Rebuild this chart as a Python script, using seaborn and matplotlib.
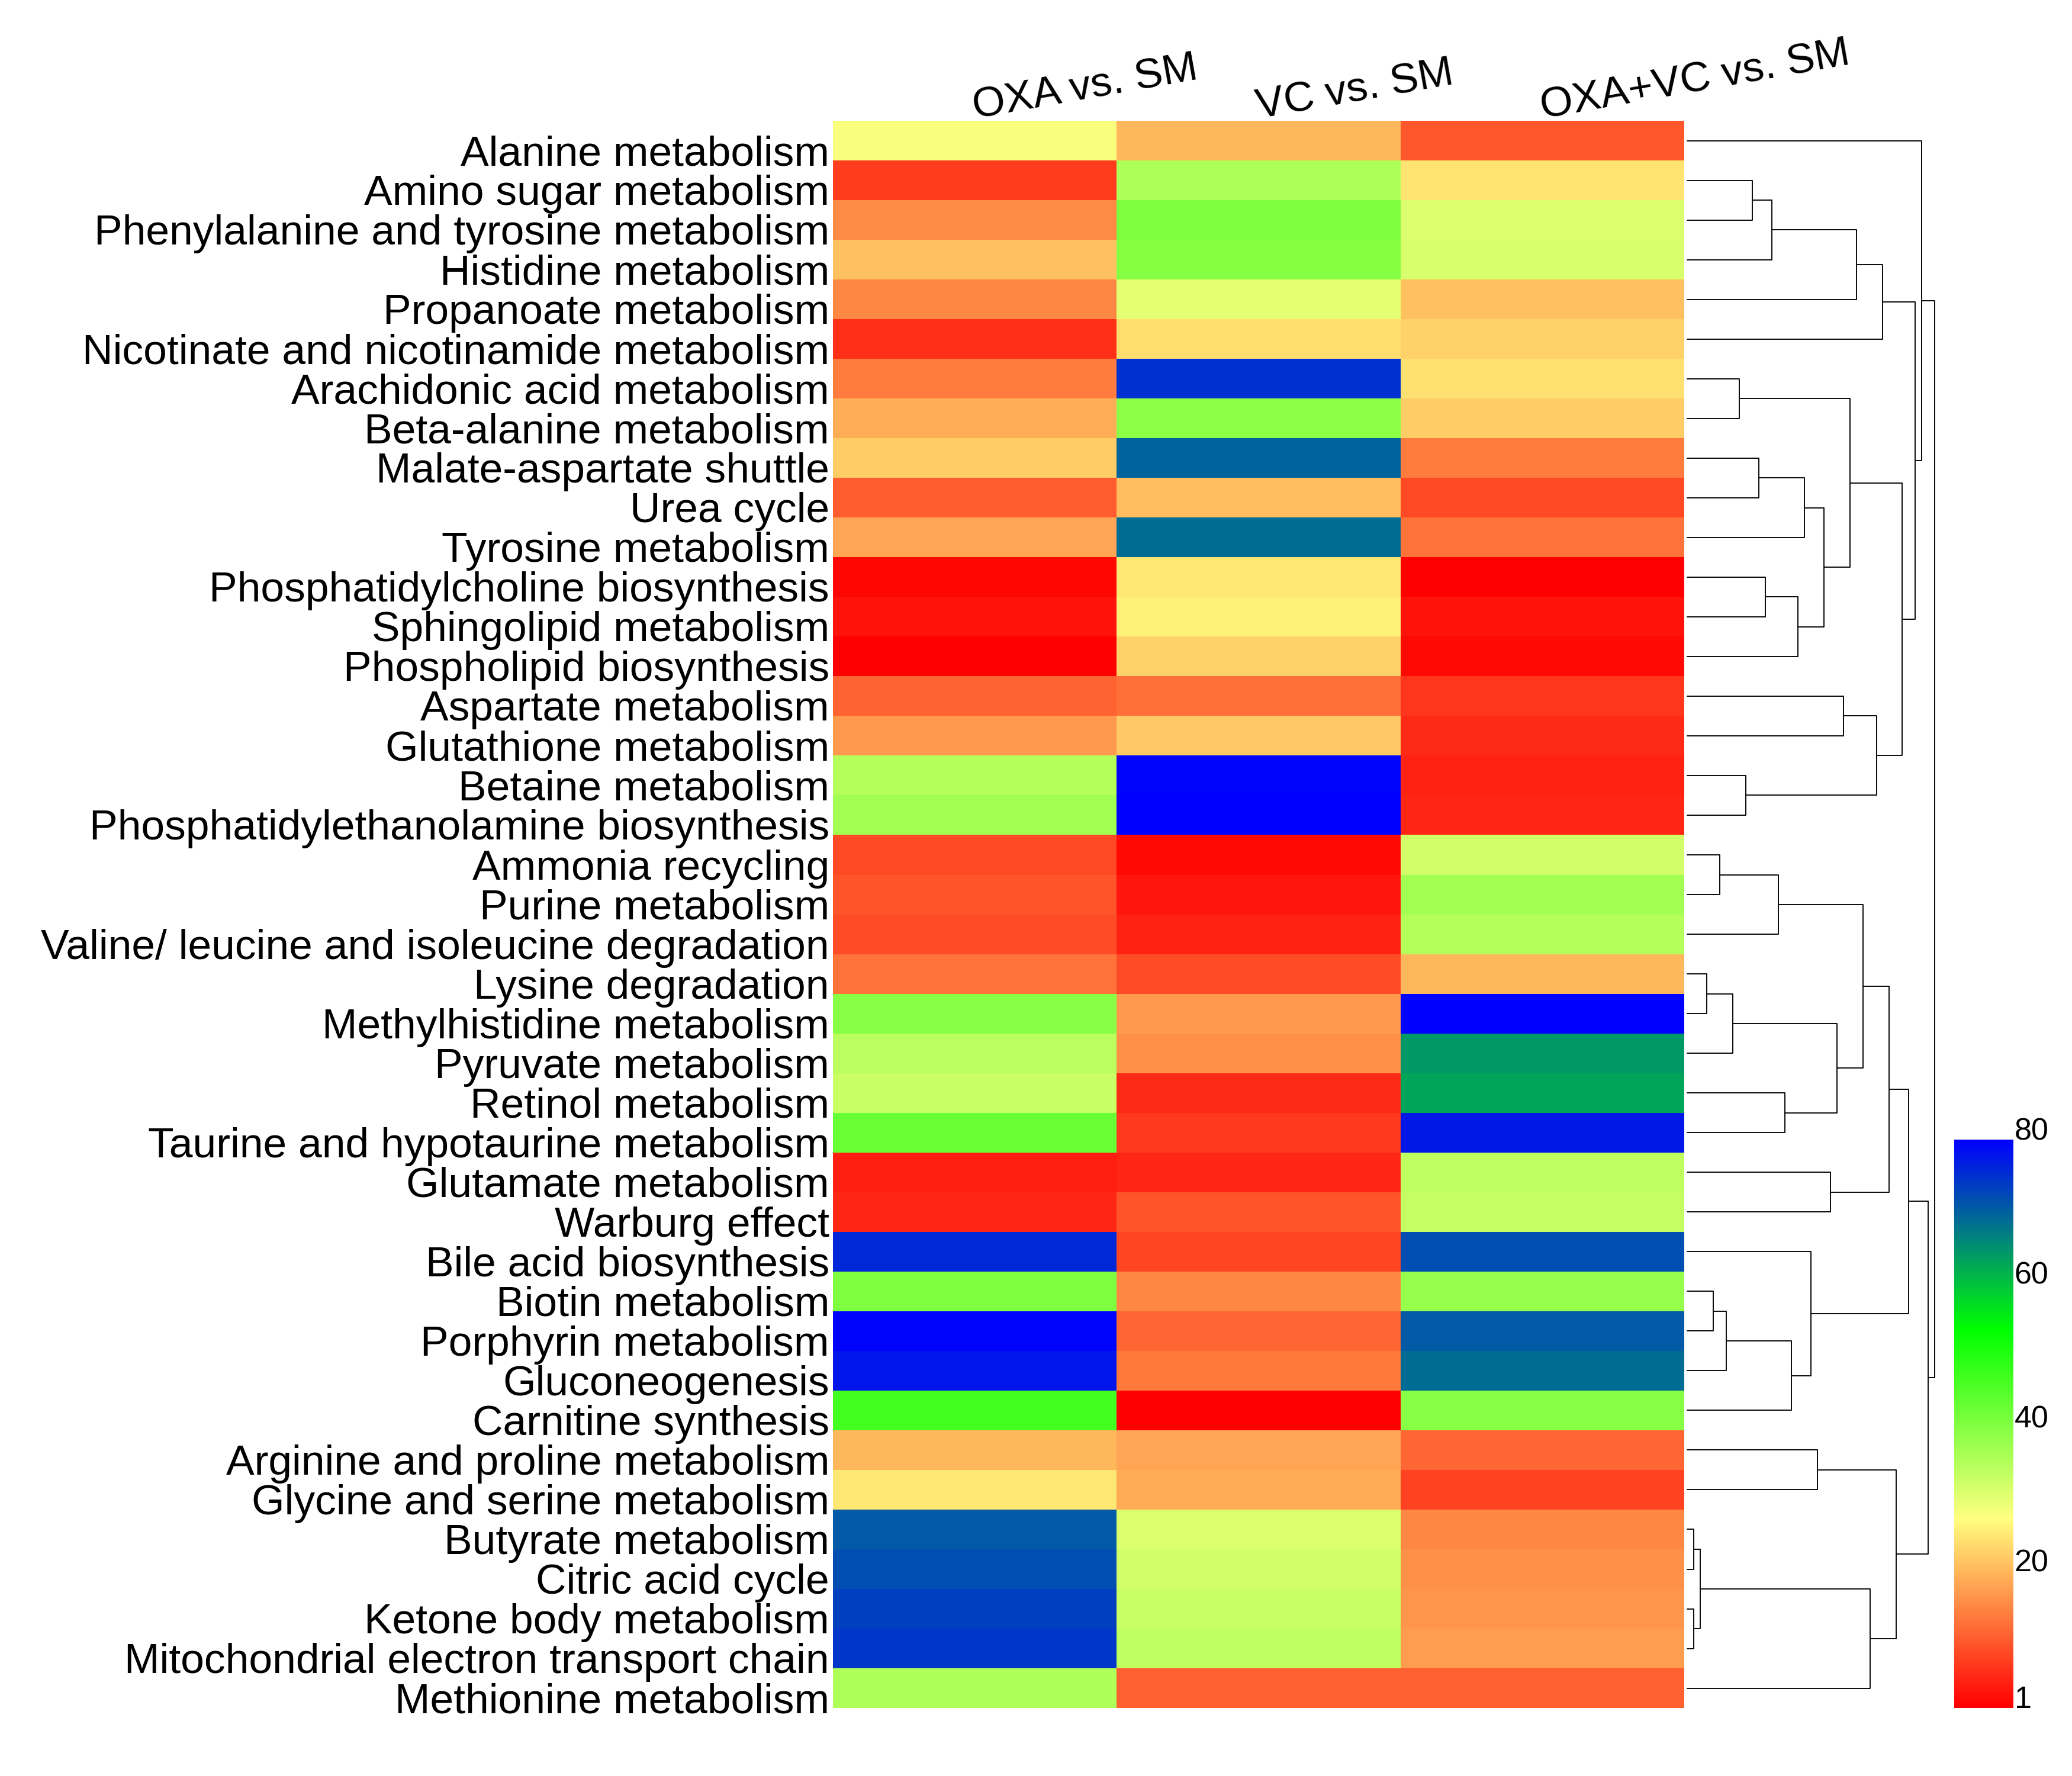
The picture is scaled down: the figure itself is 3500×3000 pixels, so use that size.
import numpy as np
import pandas as pd
import matplotlib
matplotlib.use("Agg")
import matplotlib.pyplot as plt
import matplotlib.transforms as mtransforms
import seaborn as sns
from matplotlib.colors import LinearSegmentedColormap

sns.set_style("white")
plt.rcParams['font.family'] = ['Liberation Sans', 'DejaVu Sans']
plt.rcParams['text.color'] = 'black'
plt.rcParams['xtick.color'] = 'black'
plt.rcParams['ytick.color'] = 'black'

# pathways (rows, in dendrogram order)
pathways = [
    "Alanine metabolism", "Amino sugar metabolism", "Phenylalanine and tyrosine metabolism",
    "Histidine metabolism", "Propanoate metabolism", "Nicotinate and nicotinamide metabolism",
    "Arachidonic acid metabolism", "Beta-alanine metabolism", "Malate-aspartate shuttle",
    "Urea cycle", "Tyrosine metabolism", "Phosphatidylcholine biosynthesis",
    "Sphingolipid metabolism", "Phospholipid biosynthesis", "Aspartate metabolism",
    "Glutathione metabolism", "Betaine metabolism", "Phosphatidylethanolamine biosynthesis",
    "Ammonia recycling", "Purine metabolism", "Valine/ leucine and isoleucine degradation",
    "Lysine degradation", "Methylhistidine metabolism", "Pyruvate metabolism",
    "Retinol metabolism", "Taurine and hypotaurine metabolism", "Glutamate metabolism",
    "Warburg effect", "Bile acid biosynthesis", "Biotin metabolism", "Porphyrin metabolism",
    "Gluconeogenesis", "Carnitine synthesis", "Arginine and proline metabolism",
    "Glycine and serine metabolism", "Butyrate metabolism", "Citric acid cycle",
    "Ketone body metabolism", "Mitochondrial electron transport chain", "Methionine metabolism",
]
groups = ["OXA vs. SM", "VC vs. SM", "OXA+VC vs. SM"]

oxa = [28, 7.2, 15.5, 21, 15, 6.2, 13.9, 19, 22.2, 10.8, 18, 1.8, 3, 1, 11.3, 17, 35.1, 37.1, 8.7, 9.8,
       9, 12.9, 39.7, 34.5, 33, 42.8, 4.1, 5.1, 75.8, 40.5, 79.5, 77.6, 46.9, 20, 25, 70.7, 71.8, 73.3, 74.3, 35.6]
vc = [20, 35.6, 40.5, 40, 30.1, 23.9, 74.8, 39.2, 69.7, 20.6, 68.6, 25, 25.8, 22.7, 12.6, 21.7, 79.5, 80, 2, 3.3,
      4.6, 9, 17, 16, 5.6, 7, 5.1, 9.8, 8.2, 15, 11.8, 13.4, 1, 18, 18.8, 31, 32, 33, 34, 11.1]
oxa_vc = [10, 24.7, 31, 31.5, 21, 22.7, 24.2, 22.2, 13.9, 8.7, 12.9, 1, 2.9, 2, 6.7, 5.6, 4.6, 5.1, 32, 37.1,
          35.1, 20, 80, 64, 62.9, 77.4, 34, 33.5, 71.8, 38.2, 70.7, 68.6, 39.7, 11.8, 8, 15, 16, 16.7, 17.3, 11.1]

# row clustering: (child a, child b, height); leaves 0..39, new nodes 40, 41, ...
merges = [
    (1, 2, 330), (40, 3, 429), (41, 4, 858), (42, 5, 990), (6, 7, 264),
    (8, 9, 363), (45, 10, 594), (11, 12, 396), (47, 13, 562), (46, 48, 693),
    (44, 49, 825), (14, 15, 792), (16, 17, 297), (51, 52, 958), (50, 53, 1088),
    (43, 54, 1155), (0, 55, 1188), (18, 19, 165), (57, 20, 462), (21, 22, 99),
    (59, 23, 231), (24, 25, 495), (60, 61, 759), (58, 62, 890), (26, 27, 726),
    (63, 64, 1023), (29, 30, 132), (66, 31, 198), (67, 32, 527), (28, 68, 627),
    (65, 69, 1122), (33, 34, 660), (35, 36, 33), (37, 38, 33), (72, 73, 66),
    (74, 39, 925), (71, 75, 1057), (70, 76, 1220), (56, 77, 1253),
]

df = pd.DataFrame({groups[0]: oxa, groups[1]: vc, groups[2]: oxa_vc}, index=pathways)

cmap = LinearSegmentedColormap.from_list("ryg_b", ["#FF0000", "#FFFF80", "#00FF00", "#0000FF"])

fig = plt.figure(figsize=(3500 / 300, 3000 / 300), dpi=300)
ax = fig.add_axes([0.402, 0.0383, 0.4109, 0.8937])
cax = fig.add_axes([0.943, 0.0383, 0.0286, 0.320])
dax = fig.add_axes([0.8143, 0.0383, 0.1194, 0.8937])

sns.heatmap(df, cmap=cmap, vmin=1, vmax=80, ax=ax, cbar_ax=cax,
            xticklabels=False, yticklabels=False, linewidths=0)
ax.set_xlabel("")
ax.set_ylabel("")

# row labels: right aligned, baseline a little under the bottom of each row
trans = mtransforms.blended_transform_factory(ax.transAxes, ax.transData)
trans = mtransforms.offset_copy(trans, fig=fig, x=-6, y=-8, units='dots')
for i, name in enumerate(pathways):
    ax.text(0, i + 1, name, transform=trans, ha='right', va='baseline',
            fontsize=17.15, color='black')

# column labels, slightly tilted, starting at the column centre
for j, g in enumerate(groups):
    ax.text(j + 0.5, -0.05, g, rotation=10, ha='left', va='baseline',
            rotation_mode='anchor', fontsize=17.15, color='black')

# colour key
cb = ax.collections[0].colorbar
cb.set_ticks([1, 20, 40, 60, 80])
cb.outline.set_visible(False)
cax.tick_params(length=0, labelsize=12.5, pad=0.5, labelcolor='black')
for t in cax.get_yticklabels():
    t.set_va('baseline')

# dendrogram
pos = {i: i + 0.5 for i in range(len(pathways))}
hgt = {i: 0 for i in range(len(pathways))}
for k, (a, b, h) in enumerate(merges):
    node = len(pathways) + k
    dax.plot([hgt[a], h, h, hgt[b]], [pos[a], pos[a], pos[b], pos[b]],
             color='black', lw=0.45, clip_on=False)
    pos[node] = (pos[a] + pos[b]) / 2
    hgt[node] = h
dax.set_xlim(0, merges[-1][2])
dax.set_ylim(len(pathways), 0)
dax.axis('off')

fig.savefig("out.png", dpi=300)
